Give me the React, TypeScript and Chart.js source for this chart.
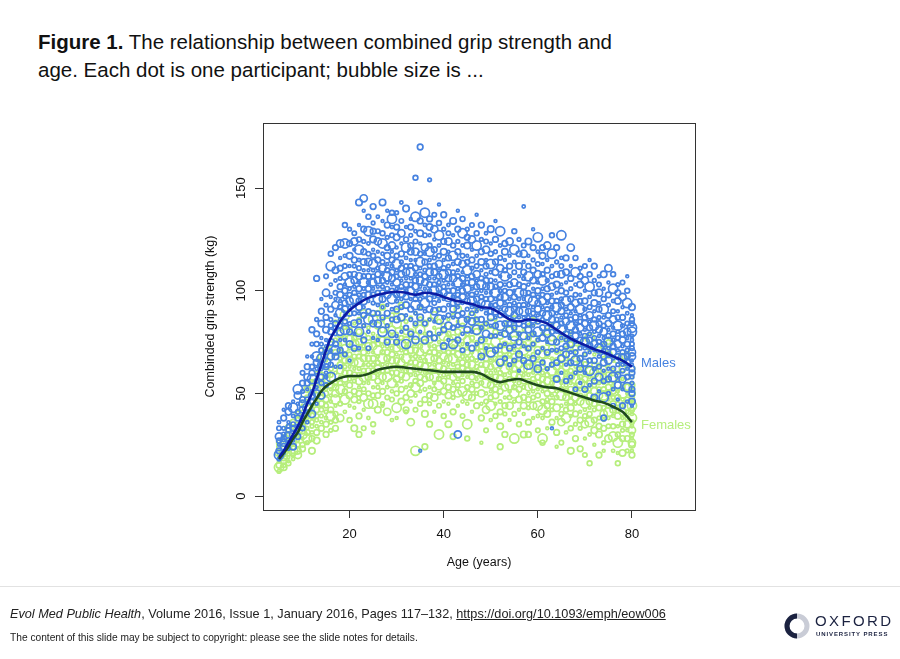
import { useEffect, useRef } from 'react';
import { Chart, registerables } from 'chart.js';

Chart.register(...registerables);

const FONT = '"Liberation Sans", Arial, Helvetica, sans-serif';

const xTicks = [20, 40, 60, 80];
const yTicks = [0, 50, 100, 150];

// ages of the participant columns (one column per year)
const scatterAges = [
  5, 6, 7, 8, 9, 10, 11, 12, 13, 14, 15, 16, 17, 18, 19, 20, 21, 22, 23, 24, 25, 26, 27, 28, 29, 30,
  31, 32, 33, 34, 35, 36, 37, 38, 39, 40, 41, 42, 43, 44, 45, 46, 47, 48, 49, 50, 51, 52, 53, 54, 55,
  56, 57, 58, 59, 60, 61, 62, 63, 64, 65, 66, 67, 68, 69, 70, 71, 72, 73, 74, 75, 76, 77, 78, 79, 80,
];

// combined grip strength (kg) of male participants, one row per age
const maleValues = [
  [18, 22, 25, 29, 33, 36, 20, 27],
  [21, 24, 28, 33, 38, 42, 26, 30],
  [23, 29, 32, 36, 41, 27, 34, 44],
  [27, 30, 35, 39, 43, 33, 46, 24],
  [29, 34, 38, 45, 49, 41, 32, 52],
  [33, 37, 42, 47, 51, 55, 39, 45, 60],
  [36, 43, 47, 52, 58, 63, 41, 55, 68],
  [40, 46, 51, 57, 63, 68, 49, 60, 74, 81],
  [45, 50, 56, 62, 68, 74, 53, 65, 79, 86, 106, 59],
  [49, 55, 62, 67, 71, 77, 84, 58, 74, 90, 96, 64],
  [54, 60, 65, 70, 76, 81, 87, 93, 63, 73, 99, 107, 58],
  [58, 64, 71, 75, 80, 86, 91, 97, 68, 83, 103, 112, 118],
  [63, 68, 74, 79, 84, 88, 93, 99, 105, 71, 82, 96, 110, 121],
  [63, 71, 76, 80, 83, 86, 89, 92, 95, 98, 102, 106, 111, 116, 123],
  [69, 76, 81, 85, 88, 91, 94, 97, 100, 103, 107, 112, 117, 123, 132],
  [66, 74, 80, 84, 89, 92, 95, 98, 101, 104, 108, 112, 117, 123, 130],
  [72, 79, 84, 89, 93, 96, 99, 102, 105, 108, 112, 115, 120, 124, 128],
  [72, 80, 85, 89, 92, 95, 98, 101, 104, 107, 111, 115, 120, 125, 132, 143],
  [76, 83, 88, 92, 95, 98, 101, 104, 107, 110, 114, 119, 124, 130, 139, 145],
  [72, 80, 86, 90, 95, 98, 101, 104, 107, 110, 114, 118, 123, 129, 136],
  [77, 84, 89, 94, 98, 101, 104, 107, 110, 113, 117, 120, 125, 129, 133, 141],
  [76, 84, 89, 93, 96, 99, 102, 105, 108, 111, 115, 119, 124, 129, 136],
  [80, 87, 92, 96, 99, 102, 105, 108, 111, 114, 118, 123, 128, 134, 143],
  [75, 83, 89, 93, 98, 101, 104, 107, 110, 113, 117, 121, 126, 132, 139],
  [79, 86, 91, 96, 100, 103, 106, 109, 112, 115, 119, 122, 127, 131, 135, 138],
  [78, 86, 91, 95, 98, 101, 104, 107, 110, 113, 117, 121, 126, 131, 138, 75],
  [80, 87, 92, 96, 99, 102, 105, 108, 111, 114, 118, 123, 128, 134, 143],
  [74, 82, 88, 93, 97, 100, 103, 106, 109, 112, 116, 121, 125, 131, 140],
  [79, 86, 91, 96, 100, 103, 106, 109, 112, 115, 119, 122, 127, 131, 135],
  [76, 84, 89, 93, 96, 99, 102, 105, 108, 111, 115, 119, 124, 129, 136, 155],
  [80, 87, 92, 96, 99, 102, 105, 108, 111, 114, 118, 123, 128, 134, 143, 170, 22],
  [76, 84, 90, 94, 98, 101, 104, 107, 110, 114, 118, 121, 127, 132, 138],
  [79, 86, 91, 96, 100, 103, 106, 109, 112, 115, 119, 122, 127, 131, 135, 154],
  [77, 85, 90, 94, 97, 100, 103, 106, 109, 112, 116, 120, 125, 130, 137],
  [79, 86, 91, 95, 98, 101, 104, 107, 110, 113, 117, 122, 127, 133, 142],
  [73, 81, 87, 91, 96, 99, 102, 105, 108, 111, 115, 119, 124, 130, 137],
  [76, 83, 88, 93, 97, 100, 103, 106, 109, 112, 116, 119, 124, 128, 132],
  [74, 82, 87, 91, 94, 97, 100, 103, 106, 109, 113, 117, 122, 127, 134],
  [76, 83, 88, 92, 95, 98, 101, 104, 107, 110, 114, 119, 124, 130, 139, 30],
  [71, 79, 85, 89, 94, 97, 100, 103, 106, 109, 113, 117, 122, 128, 135],
  [74, 81, 86, 91, 95, 98, 101, 104, 107, 110, 114, 117, 122, 126, 130],
  [72, 80, 85, 89, 92, 95, 98, 101, 104, 107, 111, 115, 120, 125, 132],
  [74, 81, 86, 90, 93, 96, 99, 102, 105, 108, 112, 117, 122, 128, 137],
  [68, 76, 82, 86, 91, 94, 97, 100, 103, 106, 110, 114, 119, 125, 132],
  [72, 79, 84, 89, 93, 96, 99, 102, 105, 108, 112, 115, 120, 124, 128],
  [70, 78, 83, 87, 90, 93, 96, 99, 102, 105, 109, 113, 118, 123, 130],
  [71, 78, 83, 87, 90, 93, 96, 99, 102, 105, 109, 114, 119, 125, 134],
  [65, 73, 79, 83, 88, 91, 94, 97, 100, 103, 107, 111, 116, 122, 129],
  [67, 74, 79, 84, 88, 91, 94, 97, 100, 103, 107, 110, 115, 119, 123],
  [64, 72, 77, 81, 84, 87, 90, 93, 96, 99, 103, 107, 112, 117, 124],
  [66, 73, 78, 82, 85, 88, 91, 94, 97, 100, 104, 109, 114, 120, 129],
  [61, 69, 75, 79, 84, 87, 90, 93, 96, 99, 103, 107, 112, 118, 125],
  [66, 73, 78, 83, 87, 90, 93, 96, 99, 102, 106, 109, 114, 118, 122, 141],
  [64, 72, 77, 81, 84, 87, 90, 93, 96, 99, 103, 107, 112, 117, 124],
  [67, 74, 79, 83, 86, 89, 92, 95, 98, 101, 105, 110, 115, 121, 130],
  [62, 70, 76, 80, 85, 88, 91, 94, 97, 100, 104, 108, 113, 119, 126],
  [65, 72, 77, 82, 86, 89, 92, 95, 98, 101, 105, 108, 113, 117, 121],
  [62, 70, 75, 79, 82, 85, 88, 91, 94, 97, 101, 105, 110, 115, 122],
  [64, 71, 76, 80, 83, 86, 89, 92, 95, 98, 102, 107, 112, 118, 127, 33],
  [57, 65, 71, 75, 80, 83, 86, 89, 92, 95, 99, 103, 108, 114, 121],
  [60, 67, 72, 77, 81, 84, 87, 90, 93, 96, 100, 103, 108, 112, 116, 127],
  [56, 64, 69, 73, 76, 79, 82, 85, 88, 91, 95, 99, 104, 109, 116],
  [58, 65, 70, 74, 77, 80, 83, 86, 89, 92, 96, 101, 106, 112, 121],
  [52, 60, 66, 70, 75, 78, 81, 84, 87, 90, 94, 98, 103, 109, 116],
  [55, 62, 67, 72, 76, 79, 82, 85, 88, 91, 95, 98, 103, 107, 111],
  [52, 60, 65, 69, 72, 75, 78, 81, 84, 87, 91, 95, 100, 105, 112],
  [54, 61, 66, 70, 73, 76, 79, 82, 85, 88, 92, 97, 102, 108, 115],
  [48, 56, 62, 66, 71, 74, 77, 80, 83, 86, 90, 94, 99, 105, 112],
  [51, 58, 63, 68, 72, 75, 78, 81, 84, 87, 91, 94, 99, 103, 107],
  [48, 56, 61, 65, 68, 71, 74, 77, 80, 83, 87, 91, 96, 101, 108, 38],
  [50, 57, 62, 66, 69, 72, 75, 78, 81, 84, 88, 93, 98, 104, 111],
  [44, 52, 58, 62, 67, 70, 73, 76, 79, 82, 86, 90, 95, 101, 108],
  [47, 54, 59, 64, 68, 71, 74, 77, 80, 83, 87, 90, 95, 99, 103],
  [44, 52, 57, 61, 64, 67, 70, 73, 76, 79, 83, 87, 92, 97, 104],
  [46, 53, 58, 62, 65, 68, 71, 74, 77, 80, 84, 89, 94, 100, 107],
  [46, 50, 55, 60, 64, 68, 72, 76, 80, 84, 88, 92, 52, 58, 62, 66, 70, 74, 78, 82, 86, 44],
];

// combined grip strength (kg) of female participants, one row per age
const femaleValues = [
  [12, 15, 18, 21, 24, 17, 14, 26, 20],
  [14, 17, 20, 23, 27, 19, 15, 29, 22],
  [16, 19, 23, 26, 30, 21, 17, 33, 25],
  [18, 22, 26, 29, 33, 24, 20, 36, 28],
  [20, 25, 29, 32, 37, 27, 22, 40, 31],
  [23, 28, 32, 36, 41, 30, 25, 44, 34, 47],
  [26, 31, 36, 40, 45, 33, 28, 48, 38, 52],
  [28, 34, 39, 44, 49, 36, 31, 52, 42, 56, 22],
  [31, 37, 42, 47, 52, 39, 34, 55, 45, 60, 27],
  [33, 39, 45, 50, 55, 42, 36, 58, 48, 63, 68],
  [35, 41, 47, 52, 57, 44, 38, 60, 50, 66, 71, 30],
  [36, 42, 49, 54, 59, 46, 39, 62, 52, 68, 74, 32],
  [37, 44, 50, 55, 60, 47, 40, 63, 53, 70, 76, 33, 85],
  [38, 45, 49, 52, 55, 58, 61, 64, 67, 70, 74, 79, 85],
  [41, 47, 51, 54, 57, 60, 63, 66, 69, 72, 77, 82, 88],
  [37, 44, 49, 54, 57, 60, 63, 66, 69, 72, 76, 81],
  [43, 47, 51, 56, 59, 62, 65, 68, 71, 74, 77, 84, 33],
  [39, 46, 50, 53, 56, 59, 62, 65, 68, 71, 75, 80, 86, 30],
  [42, 48, 52, 55, 58, 61, 64, 67, 70, 73, 78, 83, 89, 33],
  [38, 45, 50, 55, 58, 61, 64, 67, 70, 73, 77, 82],
  [45, 49, 53, 58, 61, 64, 67, 70, 73, 76, 79, 86, 35, 31],
  [42, 49, 53, 56, 59, 62, 65, 68, 71, 74, 78, 83, 89],
  [45, 51, 55, 58, 61, 64, 67, 70, 73, 76, 81, 86, 92, 44],
  [41, 48, 53, 58, 61, 64, 67, 70, 73, 76, 80, 85],
  [47, 51, 55, 60, 63, 66, 69, 72, 75, 78, 81, 88, 37],
  [43, 50, 54, 57, 60, 63, 66, 69, 72, 75, 79, 84, 90, 38],
  [46, 52, 56, 59, 62, 65, 68, 71, 74, 77, 82, 87, 93],
  [41, 48, 53, 58, 61, 64, 67, 70, 73, 76, 80, 85, 42],
  [46, 50, 54, 59, 62, 65, 68, 71, 74, 77, 80, 87, 36],
  [42, 49, 53, 56, 59, 62, 65, 68, 71, 74, 78, 83, 89, 22],
  [45, 51, 55, 58, 61, 64, 67, 70, 73, 76, 81, 86, 92],
  [40, 47, 52, 57, 60, 63, 66, 69, 72, 75, 79, 84, 24],
  [45, 49, 53, 58, 61, 64, 67, 70, 73, 76, 79, 86, 35],
  [41, 48, 52, 55, 58, 61, 64, 67, 70, 73, 77, 82, 88],
  [44, 50, 54, 57, 60, 63, 66, 69, 72, 75, 80, 85, 91, 30],
  [39, 46, 51, 56, 59, 62, 65, 68, 71, 74, 78, 83],
  [45, 49, 53, 58, 61, 64, 67, 70, 73, 76, 79, 86, 35],
  [41, 48, 52, 55, 58, 61, 64, 67, 70, 73, 77, 82, 88, 29],
  [44, 50, 54, 57, 60, 63, 66, 69, 72, 75, 80, 85, 91],
  [39, 46, 51, 56, 59, 62, 65, 68, 71, 74, 78, 83],
  [45, 49, 53, 58, 61, 64, 67, 70, 73, 76, 79, 86, 35, 28],
  [41, 48, 52, 55, 58, 61, 64, 67, 70, 73, 77, 82, 88],
  [44, 50, 54, 57, 60, 63, 66, 69, 72, 75, 80, 85, 91],
  [38, 45, 50, 55, 58, 61, 64, 67, 70, 73, 77, 82, 26],
  [42, 46, 50, 55, 58, 61, 64, 67, 70, 73, 76, 83, 32],
  [37, 44, 48, 51, 54, 57, 60, 63, 66, 69, 73, 78, 84],
  [39, 45, 49, 52, 55, 58, 61, 64, 67, 70, 75, 80, 86],
  [34, 41, 46, 51, 54, 57, 60, 63, 66, 69, 73, 78, 24],
  [40, 44, 48, 53, 56, 59, 62, 65, 68, 71, 74, 81, 30],
  [37, 44, 48, 51, 54, 57, 60, 63, 66, 69, 73, 78, 84],
  [40, 46, 50, 53, 56, 59, 62, 65, 68, 71, 76, 81, 87, 28],
  [35, 42, 47, 52, 55, 58, 61, 64, 67, 70, 74, 79],
  [40, 44, 48, 53, 56, 59, 62, 65, 68, 71, 74, 81, 30],
  [36, 43, 47, 50, 53, 56, 59, 62, 65, 68, 72, 77, 83, 30],
  [38, 44, 48, 51, 54, 57, 60, 63, 66, 69, 74, 79, 85],
  [32, 39, 44, 49, 52, 55, 58, 61, 64, 67, 71, 76],
  [38, 42, 46, 51, 54, 57, 60, 63, 66, 69, 72, 79, 28, 26],
  [33, 40, 44, 47, 50, 53, 56, 59, 62, 65, 69, 74, 80],
  [36, 42, 46, 49, 52, 55, 58, 61, 64, 67, 72, 77, 83],
  [31, 38, 43, 48, 51, 54, 57, 60, 63, 66, 70, 75, 24],
  [36, 40, 44, 49, 52, 55, 58, 61, 64, 67, 70, 77, 26],
  [31, 38, 42, 45, 48, 51, 54, 57, 60, 63, 67, 72, 78],
  [33, 39, 43, 46, 49, 52, 55, 58, 61, 64, 69, 74, 80, 22],
  [28, 35, 40, 45, 48, 51, 54, 57, 60, 63, 67, 72],
  [33, 37, 41, 46, 49, 52, 55, 58, 61, 64, 67, 74, 23],
  [28, 35, 39, 42, 45, 48, 51, 54, 57, 60, 64, 69, 75, 20],
  [30, 36, 40, 43, 46, 49, 52, 55, 58, 61, 66, 71, 77, 16],
  [25, 32, 37, 42, 45, 48, 51, 54, 57, 60, 64, 69],
  [30, 34, 38, 43, 46, 49, 52, 55, 58, 61, 64, 71, 20],
  [26, 33, 37, 40, 43, 46, 49, 52, 55, 58, 62, 67, 73, 22],
  [28, 34, 38, 41, 44, 47, 50, 53, 56, 59, 64, 69, 75],
  [22, 29, 34, 39, 42, 45, 48, 51, 54, 57, 61, 66],
  [26, 30, 34, 39, 42, 45, 48, 51, 54, 57, 60, 67, 16, 21],
  [21, 28, 32, 35, 38, 41, 44, 47, 50, 53, 57, 62, 68],
  [22, 28, 32, 35, 38, 41, 44, 47, 50, 53, 58, 63, 69],
  [22, 26, 30, 34, 38, 42, 46, 50, 54, 58, 62, 28, 32, 36, 40, 44, 48, 52, 25, 20],
];

// bubble radii, cycled over the participants
const bubbleRadii = [1.8, 2.8, 1.4, 3.6, 2.2, 1.6, 4.6, 2.4, 1.4, 3.2, 2.8];

// smoothed trend lines
const maleLineAges = [5, 6, 7, 8, 9, 10, 11, 12, 13, 14, 15, 16, 17, 18, 19, 20, 22, 24, 26, 28, 30, 32, 34, 36, 38, 40, 42, 44, 46, 48, 50, 52, 54, 56, 58, 60, 62, 64, 66, 68, 70, 72, 74, 76, 78, 80];
const maleLineValues = [19, 22, 26, 30, 34, 39, 45, 50, 57, 64, 71, 77, 81, 85, 88, 90.5, 94, 96.5, 98, 99, 99.5, 99, 98, 99, 98.5, 97, 95.5, 94.5, 93.5, 92, 91.5, 89, 86, 85, 86, 85.5, 84, 81, 78, 75.5, 73.5, 71.5, 70, 68, 66, 63];
const femaleLineAges = [5, 6, 7, 8, 9, 10, 11, 12, 13, 14, 15, 16, 17, 18, 20, 22, 24, 26, 28, 30, 32, 34, 36, 38, 40, 42, 44, 46, 48, 50, 52, 54, 56, 58, 60, 62, 64, 66, 68, 70, 72, 74, 76, 78, 80];
const femaleLineValues = [18, 21, 24, 28, 31, 36, 40, 44, 47.5, 51, 53.5, 55, 56.5, 57.5, 58.5, 58.5, 59.5, 61.5, 62.5, 63, 62.5, 62, 61.5, 61, 60.5, 60.5, 60.5, 60.5, 59.5, 57, 55.5, 56.5, 57, 55.5, 54, 53, 52.5, 51, 49.5, 48, 46.5, 45.5, 43.5, 41, 36];

const MALE_BLUE = '#4682e0';
const FEMALE_GREEN = '#b6ee7c';

const toPoints = (rows: number[][]) =>
  rows.flatMap((row, i) => row.map(v => ({ x: scatterAges[i], y: v })));

const rAxesPlugin = {
  id: 'rAxes',
  afterDraw(chart: Chart) {
    const { ctx, chartArea } = chart;
    const xs = chart.scales.x;
    const ys = chart.scales.y;
    ctx.save();
    ctx.strokeStyle = '#333';
    ctx.lineWidth = 1;
    ctx.strokeRect(chartArea.left + 0.5, chartArea.top + 0.5, chartArea.width, chartArea.height);
    ctx.fillStyle = '#111';
    ctx.font = `13px ${FONT}`;
    ctx.textAlign = 'center';
    ctx.textBaseline = 'middle';
    xTicks.forEach(v => {
      ctx.fillText(String(v), xs.getPixelForValue(v), chartArea.bottom + 24);
    });
    yTicks.forEach(v => {
      ctx.save();
      ctx.translate(chartArea.left - 22, ys.getPixelForValue(v));
      ctx.rotate(-Math.PI / 2);
      ctx.fillText(String(v), 0, 0);
      ctx.restore();
    });
    ctx.font = `12.5px ${FONT}`;
    ctx.fillText('Age (years)', (chartArea.left + chartArea.right) / 2, chartArea.bottom + 53);
    ctx.save();
    ctx.translate(chartArea.left - 52, (chartArea.top + chartArea.bottom) / 2);
    ctx.rotate(-Math.PI / 2);
    ctx.fillText('Combinded grip strength (kg)', 0, 0);
    ctx.restore();
    ctx.restore();
  },
};

function GripChart() {
  const canvasRef = useRef<HTMLCanvasElement>(null);
  const chartInstance = useRef<Chart | null>(null);

  useEffect(() => {
    if (!canvasRef.current) return;
    if (chartInstance.current) chartInstance.current.destroy();

    const radius = (c: any) => bubbleRadii[c.dataIndex % bubbleRadii.length];

    chartInstance.current = new Chart(canvasRef.current, {
      type: 'scatter',
      data: {
        datasets: [
          {
            type: 'line',
            label: 'Males trend',
            data: maleLineAges.map((a, i) => ({ x: a, y: maleLineValues[i] })),
            borderColor: '#0c1ca4',
            borderWidth: 2.6,
            pointRadius: 0,
            cubicInterpolationMode: 'monotone',
            order: 0,
          },
          {
            type: 'line',
            label: 'Females trend',
            data: femaleLineAges.map((a, i) => ({ x: a, y: femaleLineValues[i] })),
            borderColor: '#1f4a1c',
            borderWidth: 2.6,
            pointRadius: 0,
            cubicInterpolationMode: 'monotone',
            order: 1,
          },
          {
            label: 'Males',
            data: toPoints(maleValues),
            borderColor: MALE_BLUE,
            backgroundColor: 'rgba(255,255,255,0)',
            borderWidth: 1.7,
            pointRadius: radius,
            order: 2,
          },
          {
            label: 'Females',
            data: toPoints(femaleValues),
            borderColor: FEMALE_GREEN,
            backgroundColor: 'rgba(255,255,255,0)',
            borderWidth: 1.7,
            pointRadius: radius,
            order: 3,
          },
        ],
      } as any,
      options: {
        responsive: false,
        animation: false,
        layout: { padding: { top: 123, right: 205, left: 0, bottom: 0 } },
        plugins: { legend: { display: false }, tooltip: { enabled: false } },
        scales: {
          x: {
            type: 'linear',
            min: 1.6,
            max: 93.4,
            afterBuildTicks: s => { s.ticks = xTicks.map(v => ({ value: v })); },
            afterFit: s => { s.height = 149; },
            ticks: { display: false },
            border: { display: false },
            grid: { drawOnChartArea: false, drawTicks: true, tickLength: 8, color: '#333' },
          },
          y: {
            type: 'linear',
            min: -6.8,
            max: 181.7,
            afterBuildTicks: s => { s.ticks = yTicks.map(v => ({ value: v })); },
            afterFit: s => { s.width = 263; },
            ticks: { display: false },
            border: { display: false },
            grid: { drawOnChartArea: false, drawTicks: true, tickLength: 8, color: '#333' },
          },
        },
      },
      plugins: [rAxesPlugin],
    });

    return () => {
      if (chartInstance.current) {
        chartInstance.current.destroy();
        chartInstance.current = null;
      }
    };
  }, []);

  return <canvas ref={canvasRef} width={900} height={659} style={{ position: 'absolute', left: 0, top: 0, width: 900, height: 659 }} />;
}

function OxfordLogo() {
  return (
    <div style={{ position: 'absolute', left: 783, top: 611, width: 112, height: 32, whiteSpace: 'nowrap' }}>
      <svg width={28} height={28} viewBox="0 0 28 28" style={{ position: 'absolute', left: 0, top: 1 }}>
        <circle cx={14} cy={14} r={10} fill="none" stroke="#c9ccd6" strokeWidth={5} />
        <path d="M 14 4 A 10 10 0 0 0 14 24" fill="none" stroke="#1b2240" strokeWidth={5} />
      </svg>
      <div style={{ position: 'absolute', left: 32, top: 1, fontFamily: FONT, fontSize: 15, letterSpacing: 2.4, color: '#1b2240' }}>OXFORD</div>
      <div style={{ position: 'absolute', left: 33, top: 20, fontFamily: FONT, fontSize: 6, letterSpacing: 0.9, color: '#1b2240', fontWeight: 700 }}>UNIVERSITY PRESS</div>
    </div>
  );
}

export default function App() {
  return (
    <div style={{ position: 'fixed', left: 0, top: 0, width: 900, height: 659, background: '#fff', overflow: 'hidden', fontFamily: FONT }}>
      <div style={{ position: 'absolute', left: 38, top: 28, fontSize: 20.5, lineHeight: '28px', color: '#111', whiteSpace: 'nowrap' }}>
        <b>Figure 1.</b> The relationship between combined grip strength and
        <br />
        age. Each dot is one participant; bubble size is ...
      </div>
      <GripChart />
      <div style={{ position: 'absolute', left: 641, top: 355, fontSize: 13, color: MALE_BLUE }}>Males</div>
      <div style={{ position: 'absolute', left: 641, top: 417, fontSize: 13, color: FEMALE_GREEN }}>Females</div>
      <div style={{ position: 'absolute', left: 0, top: 586, width: 900, height: 1, background: '#e2e2e2' }} />
      <div style={{ position: 'absolute', left: 10, top: 607, fontSize: 12.7, color: '#222', whiteSpace: 'nowrap' }}>
        <i>Evol Med Public Health</i>, Volume 2016, Issue 1, January 2016, Pages 117–132,{' '}
        <u>https://doi.org/10.1093/emph/eow006</u>
      </div>
      <div style={{ position: 'absolute', left: 10, top: 632, fontSize: 10.2, color: '#222', whiteSpace: 'nowrap' }}>
        The content of this slide may be subject to copyright: please see the slide notes for details.
      </div>
      <OxfordLogo />
    </div>
  );
}
